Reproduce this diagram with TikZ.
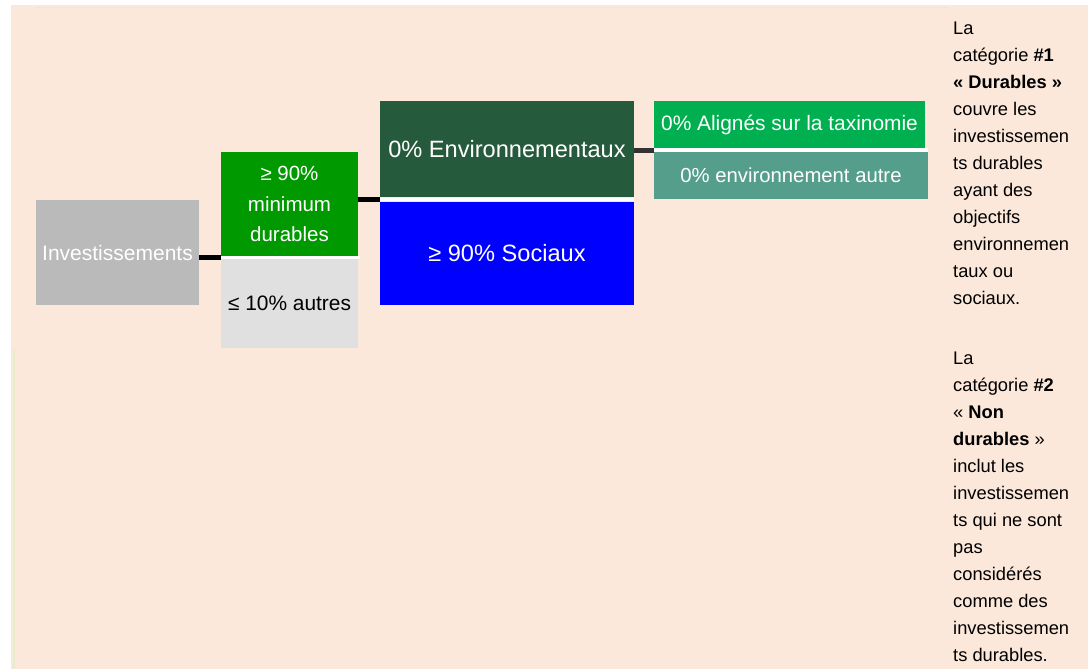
\documentclass[tikz,border=0pt]{standalone}
\usepackage{fontspec}
\setmainfont{Liberation Sans}
\definecolor{peach}{HTML}{FBE8DA}
\definecolor{paleline}{HTML}{E6EDCB}
\definecolor{invgray}{HTML}{BABABA}
\definecolor{durgreen}{HTML}{009900}
\definecolor{autgray}{HTML}{E0E0E0}
\definecolor{envgreen}{HTML}{265A3C}
\definecolor{socblue}{HTML}{0000FF}
\definecolor{taxgreen}{HTML}{00B050}
\definecolor{othteal}{HTML}{559E8C}
\definecolor{connd}{HTML}{333333}
\begin{document}
\begin{tikzpicture}[x=1pt,y=-1pt,
  box/.style={draw=none, inner sep=0pt, outer sep=0pt, align=center, text=white},
  conn/.style={line width=5pt, black},
  sepline/.style={line width=3.5pt, white},
  side/.style={anchor=base west, align=left, inner sep=0pt, font=\fontsize{18.3}{27}\selectfont}
]
\useasboundingbox (0,0) rectangle (1088,669);
\fill[peach] (11,5) rectangle (1088,669);
\draw[paleline, line width=1.2pt] (36,7.5) -- (948,7.5);
\draw[paleline, line width=1.2pt] (14,350) -- (14,669);

% boxes
\node[box, fill=invgray, minimum width=163pt, minimum height=105pt, font=\fontsize{21}{25}\selectfont] (inv) at (117.5,252.5) {Investissements};
\node[box, fill=durgreen, minimum width=137pt, minimum height=104pt, font=\fontsize{20.5}{30.5}\selectfont] (dur) at (289.5,204) {≥ 90\%\\minimum\\durables};
\node[box, fill=autgray, text=black, minimum width=137pt, minimum height=89pt, font=\fontsize{20.9}{25}\selectfont] (aut) at (289.5,303.5) {≤ 10\% autres};
\node[box, fill=envgreen, minimum width=254pt, minimum height=96pt, font=\fontsize{23.6}{28}\selectfont] (env) at (507,149) {0\% Environnementaux};
\node[box, fill=socblue, minimum width=254pt, minimum height=103pt, font=\fontsize{23.6}{28}\selectfont] (soc) at (507,253.5) {≥ 90\% Sociaux};
\node[box, fill=taxgreen, minimum width=271pt, minimum height=47pt, font=\fontsize{20.9}{25}\selectfont] (tax) at (789.5,124.5) {0\% Alignés sur la taxinomie};
\node[box, fill=othteal, minimum width=274pt, minimum height=47pt, font=\fontsize{20.3}{25}\selectfont] (oth) at (791,175.5) {0\% environnement autre};

% separators
\coordinate (s1) at (221,257.5);
\coordinate (s2) at (380,199.5);
\coordinate (s3) at (654,150);
\draw[sepline] (s1) -- ++(139,0);
\draw[sepline] (s2) -- ++(254,0);
\draw[sepline] (s3) -- ++(274,0);

% connectors
\draw[conn] (inv.east |- s1) -- (s1);
\draw[conn] (dur.east |- s2) -- (s2);
\draw[conn, connd] (env.east |- s3) -- (s3);

% side texts (anchored at the baseline of their last line)
\node[side] (t1) at (953,304) {La\\catégorie \textbf{\#1}\\\textbf{« Durables »}\\couvre les\\investissemen\\ts durables\\ayant des\\objectifs\\environnemen\\taux ou\\sociaux.};
\node[side] (t2) at (953,661) {La\\catégorie \textbf{\#2}\\« \textbf{Non}\\\textbf{durables} »\\inclut les\\investissemen\\ts qui ne sont\\pas\\considérés\\comme des\\investissemen\\ts durables.};
\end{tikzpicture}
\end{document}
